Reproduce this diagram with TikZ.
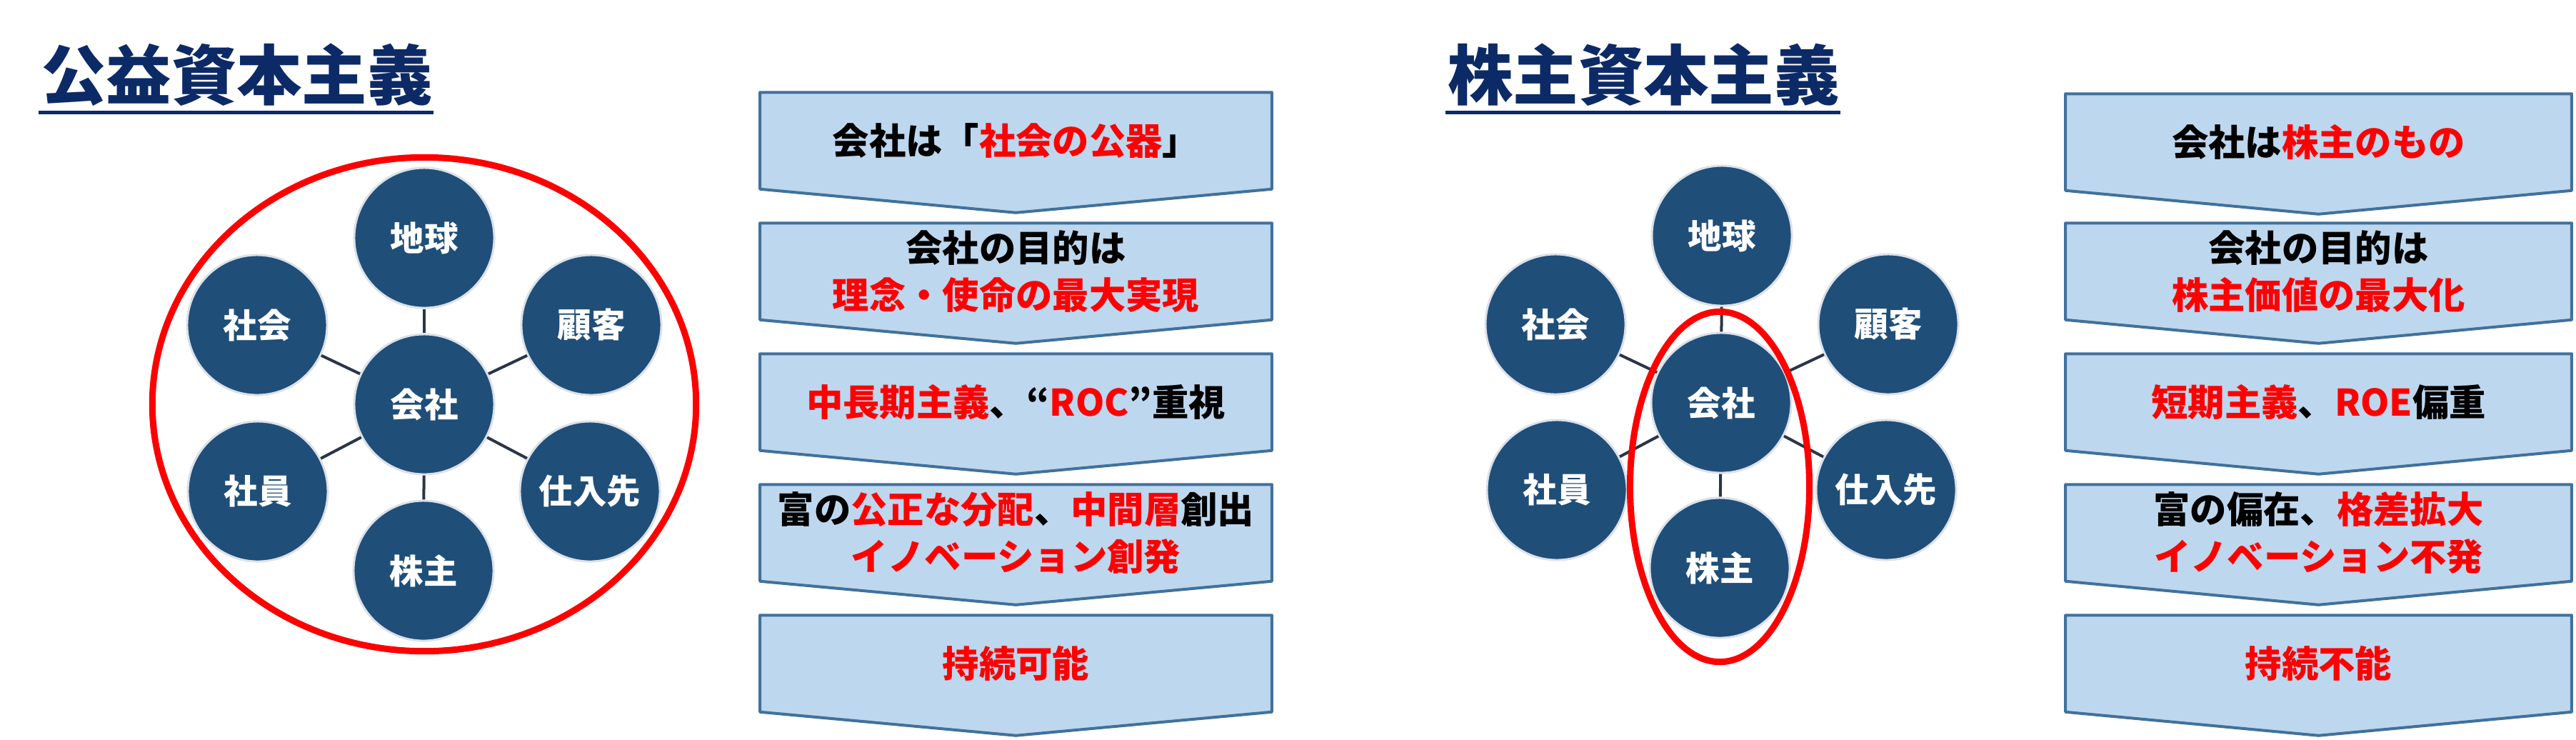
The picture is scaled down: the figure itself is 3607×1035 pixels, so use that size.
\documentclass[tikz,border=0pt]{standalone}
\usepackage{fontspec}
\setmainfont{Noto Sans CJK JP}[BoldFont={Noto Sans CJK JP Black}]
\usetikzlibrary{backgrounds,shapes.geometric,calc}
\definecolor{navy}{HTML}{0C2A66}
\definecolor{circfill}{HTML}{1F4E79}
\definecolor{circedge}{HTML}{DCE1E8}
\definecolor{connc}{HTML}{2A3548}
\definecolor{boxfill}{HTML}{BDD7EE}
\definecolor{boxedge}{HTML}{41719C}
\definecolor{hired}{HTML}{FF0000}
\newcommand\rd[1]{\textcolor{hired}{#1}}
\begin{document}
\begin{tikzpicture}[x=0.01cm,y=-0.01cm,
  every node/.style={inner sep=0pt},
  ttl/.style={text=navy, font=\fontsize{26pt}{30pt}\selectfont\bfseries},
  circ/.style={circle, fill=circfill, draw=circedge, line width=0.03cm, minimum size=1.96cm, text=white, font=\fontsize{13.5pt}{16pt}\selectfont\bfseries},
  conn/.style={draw=connc, line width=0.04cm},
  ring/.style={ellipse, draw=hired, line width=0.09cm},
  btxt/.style={minimum height=1.34cm, align=center, text=black, font=\fontsize{14.6pt}{18.8pt}\selectfont\bfseries},
  lbox/.style={btxt, minimum width=7.15cm},
  rbox/.style={btxt, minimum width=7.07cm},
  chev/.style={fill=boxfill, draw=boxedge, line width=0.04cm, line join=round},
]
\useasboundingbox (0,0) rectangle (3607,1035);

% titles
\node[ttl] (t1) at (331.5,105) {公益資本主義};
\node[ttl] (t2) at (2301.5,105) {株主資本主義};
\draw[navy, line width=0.05cm] ($(t1.south west)+(-3,8)$) -- ($(t1.south east)+(0,8)$);
\draw[navy, line width=0.05cm] ($(t2.south west)+(-3,8)$) -- ($(t2.south east)+(0,8)$);

% left network
\node[circ] (c1) at (594,566) {会社};
\node[circ] (e1) at (594,333) {地球};
\node[circ] (s1) at (360,455) {社会};
\node[circ] (k1) at (828,455) {顧客};
\node[circ] (j1) at (361,688) {社員};
\node[circ] (v1) at (826,688) {仕入先};
\node[circ] (h1) at (593,799) {株主};
\foreach \o in {e1,s1,k1,j1,v1,h1} \draw[conn] (c1) -- (\o);
\node[ring, minimum width=7.61cm, minimum height=6.91cm] (r1) at (594,566) {};

% right network
\node[circ] (c2) at (2410,564) {会社};
\node[circ] (e2) at (2411,330) {地球};
\node[circ] (s2) at (2178,454) {社会};
\node[circ] (k2) at (2644,454) {顧客};
\node[circ] (j2) at (2180,686) {社員};
\node[circ] (v2) at (2641,686) {仕入先};
\node[circ] (h2) at (2408,795) {株主};
\foreach \o in {e2,s2,k2,j2,v2,h2} \draw[conn] (c2) -- (\o);
\node[ring, minimum width=2.51cm, minimum height=4.90cm] (r2) at (2408,681.5) {};

% left flow
\node[lbox] (L1) at (1422.5,197) {会社は「\rd{社会の公器}」};
\node[lbox] (L2) at (1422.5,380) {会社の目的は\\\rd{理念・使命の最大実現}};
\node[lbox] (L3) at (1422.5,563) {\rd{中長期主義}、“\rd{ROC}”重視};
\node[lbox] (L4) at (1422.5,746) {富の\rd{公正な分配}、\rd{中間層}創出\\\rd{イノベーション創発}};
\node[lbox] (L5) at (1422.5,929) {\rd{持続可能}};

% right flow
\node[rbox] (R1) at (3246.5,199) {会社は\rd{株主のもの}};
\node[rbox] (R2) at (3246.5,380) {会社の目的は\\\rd{株主価値の最大化}};
\node[rbox] (R3) at (3246.5,563) {\rd{短期主義}、\rd{ROE}偏重};
\node[rbox] (R4) at (3246.5,746) {富の偏在、\rd{格差拡大}\\\rd{イノベーション不発}};
\node[rbox] (R5) at (3246.5,929) {\rd{持続不能}};

\begin{scope}[on background layer]
\foreach \n in {L1,L2,L3,L4,L5,R1,R2,R3,R4,R5}
  \path[chev] (\n.north west) -- (\n.north east) -- (\n.south east)
    -- ($(\n.south)+(0,33)$) -- (\n.south west) -- cycle;
\end{scope}
\end{tikzpicture}
\end{document}
